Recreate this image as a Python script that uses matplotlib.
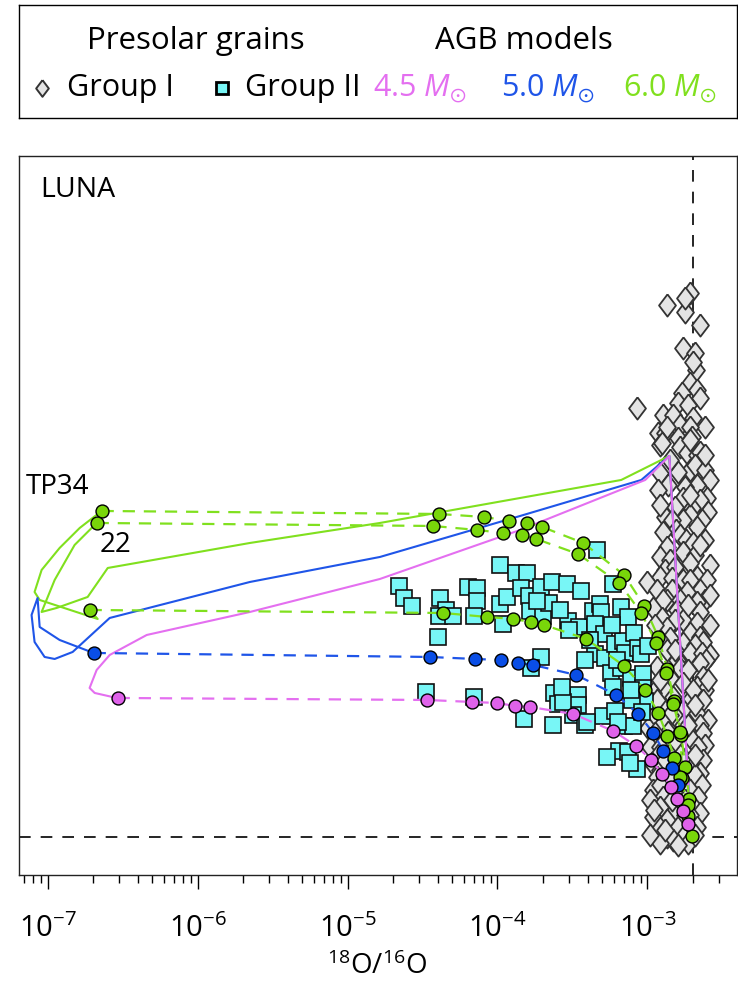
import numpy as np
import matplotlib
matplotlib.use("Agg")
import matplotlib.pyplot as plt
from matplotlib.ticker import LogLocator, NullLocator, NullFormatter

plt.rcParams['font.family'] = ['Open Sans', 'DejaVu Sans']
plt.rcParams['mathtext.fontset'] = 'custom'
plt.rcParams['mathtext.rm'] = 'Open Sans'
plt.rcParams['mathtext.it'] = 'Open Sans:italic'
plt.rcParams['mathtext.default'] = 'regular'

# all values are log10 of the isotope ratios: (log 18O/16O, log 17O/16O)
solar_18 = np.log10(2.005e-3)
solar_17 = np.log10(3.8e-4)

# Group I grains
group1 = [
    (-2.868, -2.356), (-2.747, -2.370), (-2.714, -2.332), (-2.747, -2.342), (-2.647, -2.396),
    (-2.761, -2.442), (-2.681, -2.452), (-2.674, -2.486), (-2.714, -2.512), (-2.667, -2.526),
    (-2.767, -2.532), (-2.647, -2.542), (-2.694, -2.470),
    (-2.794, -2.552), (-2.727, -2.556), (-3.068, -2.562), (-2.894, -2.576), (-2.827, -2.576),
    (-2.694, -2.582), (-2.614, -2.600), (-2.781, -2.596), (-2.714, -2.600), (-2.928, -2.612),
    (-2.881, -2.612), (-2.794, -2.622), (-2.701, -2.620), (-2.914, -2.636), (-2.781, -2.640),
    (-2.734, -2.652), (-2.667, -2.656), (-2.647, -2.680), (-2.714, -2.686), (-2.794, -2.690),
    (-2.914, -2.692), (-2.868, -2.600), (-2.901, -2.632), (-2.714, -2.626), (-2.647, -2.650),
    (-2.847, -2.666), (-2.681, -2.676), (-2.614, -2.686), (-2.614, -2.656),
    (-2.580, -2.706), (-2.861, -2.716), (-2.928, -2.726), (-2.667, -2.716), (-2.747, -2.720),
    (-2.600, -2.742), (-2.761, -2.742), (-2.647, -2.746), (-2.814, -2.760), (-2.701, -2.762),
    (-2.594, -2.770), (-2.714, -2.776), (-2.881, -2.780), (-2.761, -2.786), (-2.834, -2.786),
    (-2.634, -2.786), (-2.667, -2.800), (-2.807, -2.806), (-2.894, -2.810), (-2.781, -2.816),
    (-2.741, -2.826), (-2.614, -2.826), (-2.694, -2.832), (-2.868, -2.840), (-2.761, -2.850),
    (-2.681, -2.856), (-2.914, -2.860), (-2.847, -2.866), (-2.714, -2.736), (-2.914, -2.756),
    (-2.647, -2.836), (-2.881, -2.886),
    (-2.714, -2.872), (-2.580, -2.876), (-2.814, -2.880), (-2.914, -2.900), (-2.834, -2.902),
    (-2.761, -2.906), (-2.667, -2.900), (-2.714, -2.906), (-2.600, -2.906), (-3.001, -2.910),
    (-2.934, -2.926), (-2.834, -2.926), (-2.647, -2.926), (-2.734, -2.930), (-2.868, -2.946),
    (-2.894, -2.946), (-2.781, -2.946), (-2.614, -2.946), (-2.667, -2.950), (-2.961, -2.962),
    (-2.801, -2.966), (-2.647, -2.970), (-2.901, -2.982), (-2.761, -2.986), (-2.814, -2.986),
    (-2.667, -2.992), (-2.580, -2.996), (-2.868, -3.002), (-2.714, -3.012), (-2.647, -3.020),
    (-2.847, -3.022), (-2.914, -3.026), (-2.580, -2.936), (-2.727, -2.956), (-2.948, -2.996),
    (-2.761, -3.032), (-2.627, -3.030), (-2.681, -3.036), (-2.868, -3.046), (-2.714, -3.052),
    (-2.634, -3.052), (-2.580, -3.056), (-2.801, -3.066), (-2.607, -3.066), (-2.647, -3.072),
    (-2.934, -3.080), (-2.781, -3.082), (-2.727, -3.086), (-2.627, -3.100), (-2.847, -3.102),
    (-2.761, -3.112), (-2.667, -3.120), (-2.881, -3.126), (-2.614, -3.126), (-2.961, -3.132),
    (-2.827, -3.140), (-2.714, -3.146), (-2.627, -3.146), (-2.901, -3.160), (-2.761, -3.166),
    (-2.667, -3.172), (-2.961, -3.180), (-2.794, -3.186), (-2.594, -3.186), (-2.814, -3.046),
    (-2.914, -3.106), (-2.694, -3.126), (-2.594, -3.106), (-2.934, -3.146), (-2.681, -3.156),
    (-2.847, -3.176),
    (-2.894, -3.192), (-2.761, -3.196), (-2.647, -3.196), (-2.995, -3.202), (-2.727, -3.210),
    (-2.861, -3.210), (-2.948, -3.212), (-2.627, -3.212), (-2.701, -3.226), (-2.881, -3.226),
    (-2.614, -3.236), (-2.981, -3.240), (-2.914, -3.240), (-2.661, -3.240), (-2.827, -3.246),
    (-2.781, -3.256), (-2.928, -3.256), (-2.747, -3.266), (-2.627, -3.266), (-2.968, -3.272),
    (-2.868, -3.280), (-2.714, -3.286), (-2.914, -3.286), (-2.647, -3.292), (-2.681, -3.296),
    (-2.934, -3.300), (-2.847, -3.306), (-2.634, -3.316), (-2.814, -3.326), (-2.961, -3.326),
    (-2.727, -3.196), (-2.814, -3.226), (-2.681, -3.256), (-2.881, -3.266), (-2.781, -3.286),
    (-2.914, -3.316), (-2.714, -3.326),
    (-2.661, -3.340), (-2.894, -3.340), (-2.747, -3.346), (-2.981, -3.346), (-2.701, -3.356),
    (-2.914, -3.360), (-2.827, -3.372), (-2.647, -3.372), (-2.714, -3.376), (-2.961, -3.380),
    (-2.868, -3.386), (-2.794, -3.400), (-2.667, -3.400), (-2.914, -3.402), (-2.868, -3.420),
    (-2.761, -3.420), (-2.827, -3.426), (-2.914, -3.432), (-2.727, -3.432), (-2.834, -3.346),
    (-2.954, -3.366), (-2.747, -3.376), (-2.881, -3.406), (-2.681, -3.416), (-2.794, -3.436),
    (-2.981, -3.416),
]

# Group II grains
group2 = [
    (-3.983, -2.876), (-3.876, -2.892), (-3.802, -2.892), (-4.657, -2.918), (-4.623, -2.942),
    (-4.570, -2.958), (-4.383, -2.942), (-4.343, -2.966), (-4.390, -2.978), (-4.296, -2.978),
    (-4.196, -2.920), (-4.136, -2.922), (-4.136, -2.948), (-4.156, -2.978), (-3.983, -2.954),
    (-3.936, -2.940), (-3.963, -2.994), (-3.842, -2.922), (-3.789, -2.938), (-3.709, -2.920),
    (-3.635, -2.910), (-3.535, -2.914), (-3.442, -2.928), (-3.782, -2.968), (-3.695, -2.978),
    (-3.655, -2.952), (-3.736, -2.948), (-3.529, -2.988), (-3.455, -3.000), (-3.522, -3.006),
    (-3.362, -2.968), (-3.315, -2.954), (-3.308, -2.970), (-3.175, -2.960), (-3.128, -2.980),
    (-3.335, -2.846), (-3.228, -2.914), (-3.348, -2.994), (-3.288, -3.014), (-3.348, -3.054),
    (-3.282, -3.062), (-3.215, -3.034), (-3.161, -3.028), (-3.088, -3.012), (-3.148, -3.052),
    (-3.061, -3.042), (-3.041, -3.054), (-2.995, -3.038), (-3.241, -3.092), (-3.175, -3.082),
    (-3.108, -3.102), (-3.028, -3.094), (-4.396, -3.020), (-3.709, -3.060), (-3.776, -3.082),
    (-4.476, -3.130), (-4.156, -3.140), (-3.822, -3.184), (-3.622, -3.132), (-3.595, -3.154),
    (-3.462, -3.136), (-3.462, -3.156), (-3.495, -3.176), (-3.629, -3.196), (-3.415, -3.196),
    (-3.295, -3.178), (-3.215, -3.168), (-3.155, -3.198), (-3.095, -3.198), (-3.188, -3.248),
    (-3.128, -3.250), (-3.268, -3.260), (-3.068, -3.284), (-3.115, -3.272), (-3.028, -3.122),
    (-3.015, -3.148), (-3.402, -3.190), (-3.195, -3.190), (-3.562, -3.150), (-3.569, -3.120),
    (-3.228, -3.120), (-3.101, -3.146), (-3.035, -3.170), (-3.582, -2.966), (-3.382, -3.026),
    (-3.235, -2.996), (-3.415, -3.066), (-3.108, -3.126), (-3.201, -3.066),
]

# AGB model envelope evolution (solid)
m45_track = [(-2.714, -3.386), (-2.854, -2.658), (-3.015, -2.706), (-3.849, -2.806),
             (-4.784, -2.904), (-5.651, -2.970), (-6.339, -3.016), (-6.586, -3.056),
             (-6.673, -3.086), (-6.720, -3.122), (-6.686, -3.132), (-6.539, -3.142)]
m50_track = [(-2.714, -3.386), (-2.854, -2.658), (-3.041, -2.706), (-3.849, -2.778),
             (-4.784, -2.860), (-5.651, -2.910), (-6.586, -2.982), (-6.833, -3.050),
             (-6.953, -3.064), (-7.020, -3.060), (-7.087, -3.030), (-7.107, -2.976),
             (-7.067, -2.942), (-7.053, -3.000), (-6.920, -3.026), (-6.693, -3.052)]
m60_track_a = [(-2.714, -3.386), (-2.854, -2.658), (-3.175, -2.706), (-4.784, -2.792),
               (-5.651, -2.832), (-6.599, -2.882), (-6.733, -2.940), (-6.940, -2.962),
               (-7.040, -2.970), (-6.953, -2.906), (-6.820, -2.836), (-6.673, -2.792)]
m60_track_b = [(-6.720, -2.966), (-6.666, -2.984), (-7.053, -2.946), (-7.087, -2.930),
               (-7.040, -2.886), (-6.920, -2.842), (-6.786, -2.802), (-6.640, -2.768)]

# mixing lines towards solar (dashed with dots)
m45_mix = [(-6.533, -3.142), (-4.470, -3.146), (-4.169, -3.150), (-4.003, -3.152),
           (-3.882, -3.158), (-3.782, -3.160), (-3.495, -3.174), (-3.228, -3.208),
           (-3.075, -3.238), (-2.974, -3.266), (-2.901, -3.294), (-2.841, -3.320),
           (-2.801, -3.344), (-2.761, -3.368), (-2.727, -3.394)]
m50_mix = [(-6.693, -3.052), (-4.450, -3.060), (-4.150, -3.064), (-3.976, -3.066),
           (-3.862, -3.072), (-3.762, -3.076), (-3.475, -3.096), (-3.208, -3.136),
           (-3.061, -3.174), (-2.961, -3.212), (-2.894, -3.248), (-2.834, -3.282),
           (-2.794, -3.316)]
m60_mix_tp34 = [(-6.640, -2.768), (-4.390, -2.774), (-4.089, -2.780), (-3.922, -2.788),
                (-3.802, -2.792), (-3.702, -2.800), (-3.428, -2.832), (-3.155, -2.896),
                (-3.021, -2.958), (-2.928, -3.020), (-2.868, -3.084), (-2.821, -3.148),
                (-2.774, -3.216), (-2.747, -3.280), (-2.721, -3.344), (-2.701, -3.418)]
m60_mix_tp22 = [(-6.673, -2.792), (-4.430, -2.798), (-4.136, -2.806), (-3.963, -2.812),
                (-3.836, -2.816), (-3.742, -2.824), (-3.462, -2.854), (-3.188, -2.912),
                (-3.041, -2.972), (-2.941, -3.032), (-2.874, -3.092), (-2.827, -3.154),
                (-2.781, -3.210), (-2.767, -3.302), (-2.727, -3.378)]
m60_mix_low = [(-6.720, -2.966), (-4.363, -2.972), (-4.069, -2.980), (-3.896, -2.984),
               (-3.776, -2.990), (-3.689, -2.996), (-3.408, -3.024), (-3.155, -3.078),
               (-3.015, -3.126), (-2.928, -3.172), (-2.868, -3.218), (-2.821, -3.262),
               (-2.781, -3.300), (-2.727, -3.356)]

PINK = '#e46ff0'
BLUE = '#1f55e8'
GREEN = '#80e01e'
PINK_DOT = '#df62ea'
BLUE_DOT = '#0a4ee6'
GREEN_DOT = '#79d60a'


def ratio(pts):
    a = np.array(pts)
    return 10 ** a[:, 0], 10 ** a[:, 1]


fig = plt.figure(figsize=(7.38, 9.84), dpi=100)
ax = fig.add_axes([0.0251, 0.1108, 0.9729, 0.7310])
ax.set_xscale('log')
ax.set_yscale('log')
ax.set_xlim(10 ** -7.194, 10 ** -2.406)
ax.set_ylim(10 ** -3.496, 10 ** -2.0574)

ax.axvline(10 ** solar_18, color='k', lw=1.2, ls=(0, (7, 6)), zorder=1)
ax.axhline(10 ** solar_17, color='k', lw=1.2, ls=(0, (7, 6)), zorder=1)

diamond = [(0, 1), (0.76, 0), (0, -1), (-0.76, 0), (0, 1)]
x, y = ratio(group1)
ax.plot(x, y, ls='none', marker=diamond, ms=16, mfc='#e4e4e4', mec='#333333',
        mew=1.3, zorder=2)
x, y = ratio(group2)
ax.plot(x, y, ls='none', marker='s', ms=12, mfc='#78f6f6', mec='#111111',
        mew=1.2, zorder=3)

for pts, c in [(m60_track_a, GREEN), (m60_track_b, GREEN), (m50_track, BLUE), (m45_track, PINK)]:
    x, y = ratio(pts)
    ax.plot(x, y, color=c, lw=1.5, zorder=4)

for pts, c, dc in [(m60_mix_tp34, GREEN, GREEN_DOT), (m60_mix_tp22, GREEN, GREEN_DOT),
                   (m60_mix_low, GREEN, GREEN_DOT), (m50_mix, BLUE, BLUE_DOT),
                   (m45_mix, PINK, PINK_DOT)]:
    x, y = ratio(pts)
    ax.plot(x, y, color=c, lw=1.6, ls=(0, (5.5, 4)), zorder=4)
    ax.plot(x, y, ls='none', marker='o', ms=9.3, mfc=dc, mec='k', mew=1.0, zorder=5)

ax.xaxis.set_major_locator(LogLocator(base=10, numticks=10))
ax.xaxis.set_minor_locator(LogLocator(base=10, subs=np.arange(2, 10), numticks=20))
ax.xaxis.set_minor_formatter(NullFormatter())
ax.yaxis.set_major_locator(NullLocator())
ax.yaxis.set_minor_locator(NullLocator())
ax.tick_params(axis='x', which='major', direction='out', length=10, width=1.0,
               labelsize=21, pad=18)
ax.tick_params(axis='x', which='minor', direction='out', length=6, width=1.0)
for s in ax.spines.values():
    s.set_linewidth(1.0)
    s.set_color('#222222')
ax.set_xlabel(r'$^{18}$O/$^{16}$O', fontsize=20, labelpad=6)

ax.text(0.030, 0.952, 'LUNA', transform=ax.transAxes, fontsize=20.5, va='center', ha='left')
ax.text(10 ** -7.147, 10 ** -2.720, 'TP34', fontsize=20, va='center', ha='left')
ax.text(10 ** -6.653, 10 ** -2.836, '22', fontsize=20, va='center', ha='left')

# legend box
lg = fig.add_axes([19 / 738, 1 - 118 / 984, 718 / 738, 113 / 984])
lg.set_xlim(0, 718)
lg.set_ylim(113, 0)
lg.set_xticks([])
lg.set_yticks([])
for s in lg.spines.values():
    s.set_linewidth(1.0)
lg.text(177, 36, 'Presolar grains', fontsize=22.5, ha='center', va='center')
lg.text(505, 36, 'AGB models', fontsize=22.5, ha='center', va='center')
lg.plot([23], [83], ls='none', marker=diamond, ms=12, mfc='#e4e4e4', mec='#333333', mew=1.4)
lg.text(48, 83, 'Group I', fontsize=22, ha='left', va='center')
lg.plot([203], [83], ls='none', marker='s', ms=9, mfc='#78f6f6', mec='k', mew=2.0)
lg.text(226, 83, 'Group II', fontsize=22, ha='left', va='center')
lg.text(354, 83, r'4.5 $\mathit{M}_{\odot}$', fontsize=22, ha='left', va='center', color=PINK)
lg.text(482, 83, r'5.0 $\mathit{M}_{\odot}$', fontsize=22, ha='left', va='center', color=BLUE)
lg.text(604, 83, r'6.0 $\mathit{M}_{\odot}$', fontsize=22, ha='left', va='center', color=GREEN)

fig.savefig('out.png', dpi=100)
